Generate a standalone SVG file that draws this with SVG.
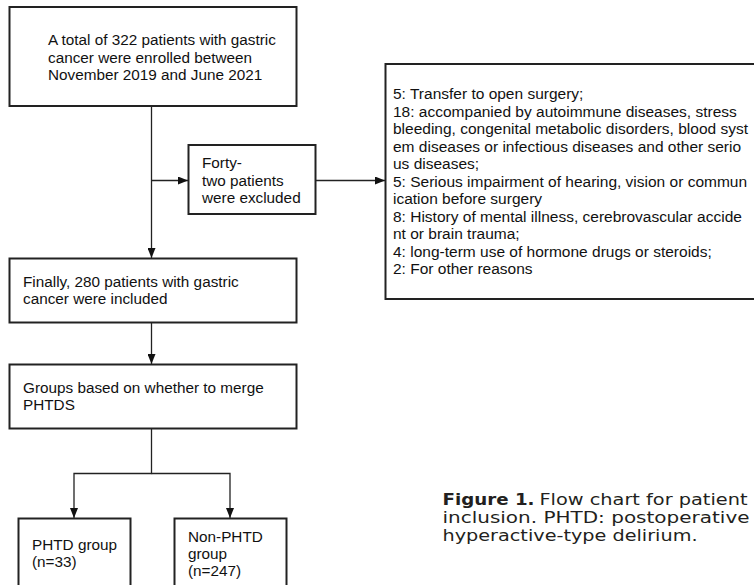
<svg xmlns="http://www.w3.org/2000/svg" width="754" height="585" viewBox="0 0 754 585">
<defs>
<marker id="ah" viewBox="0 0 10 8" refX="10" refY="4" markerWidth="10" markerHeight="8" markerUnits="userSpaceOnUse" orient="auto">
<path d="M0,0 L10,4 L0,8 Z" fill="#111"/>
</marker>
<style>
.box{fill:#fff;stroke:#222;stroke-width:2}
.t{font-family:"Liberation Sans",Arial,sans-serif;font-size:15.3px;fill:#111}
.r{font-size:15.5px}
.ln{fill:none;stroke:#222;stroke-width:1.3}
.cap{font-family:"DejaVu Sans","Liberation Sans",sans-serif;font-size:16.5px;fill:#231f20}
</style>
</defs>
<rect width="754" height="585" fill="#fff"/>
<g id="connectors">
<path class="ln" d="M151.5,106 V258" marker-end="url(#ah)"/>
<path class="ln" d="M151.5,180.5 H188" marker-end="url(#ah)"/>
<path class="ln" d="M315.5,180.5 H385" marker-end="url(#ah)"/>
<path class="ln" d="M151.5,323 V364" marker-end="url(#ah)"/>
<path class="ln" d="M151.5,428 V473.5 H74 V518" marker-end="url(#ah)"/>
<path class="ln" d="M151.5,473.5 H230 V518" marker-end="url(#ah)"/>
</g>
<g id="n-enrolled">
<rect class="box" x="9.5" y="7" width="287" height="99"/>
<text class="t" x="48" y="45">A total of 322 patients with gastric</text>
<text class="t" x="48" y="62.5">cancer were enrolled between</text>
<text class="t" x="48" y="80">November 2019 and June 2021</text>
</g>
<g id="n-excluded">
<rect class="box" x="188.5" y="145" width="127" height="69"/>
<text class="t" x="202" y="168">Forty-</text>
<text class="t" x="202" y="185.5">two patients</text>
<text class="t" x="202" y="203">were excluded</text>
</g>
<g id="n-reasons">
<rect class="box" x="385.5" y="64" width="380" height="235"/>
<text class="t r" x="393" y="99">5: Transfer to open surgery;</text>
<text class="t r" x="393" y="116.5">18: accompanied by autoimmune diseases, stress</text>
<text class="t r" x="393" y="134">bleeding, congenital metabolic disorders, blood syst</text>
<text class="t r" x="393" y="151.5">em diseases or infectious diseases and other serio</text>
<text class="t r" x="393" y="169">us diseases;</text>
<text class="t r" x="393" y="186.5">5: Serious impairment of hearing, vision or commun</text>
<text class="t r" x="393" y="204">ication before surgery</text>
<text class="t r" x="393" y="221.5">8: History of mental illness, cerebrovascular accide</text>
<text class="t r" x="393" y="239">nt or brain trauma;</text>
<text class="t r" x="393" y="256.5">4: long-term use of hormone drugs or steroids;</text>
<text class="t r" x="393" y="274">2: For other reasons</text>
</g>
<g id="n-included">
<rect class="box" x="9.5" y="258.5" width="287" height="64"/>
<text class="t" x="23" y="286.5">Finally, 280 patients with gastric</text>
<text class="t" x="23" y="304">cancer were included</text>
</g>
<g id="n-groups">
<rect class="box" x="9.5" y="364.5" width="287" height="64"/>
<text class="t" x="23" y="392.5">Groups based on whether to merge</text>
<text class="t" x="23" y="410">PHTDS</text>
</g>
<g id="n-phtd">
<rect class="box" x="18.5" y="518.5" width="112" height="90"/>
<text class="t" x="32" y="550">PHTD group</text>
<text class="t" x="32" y="567">(n=33)</text>
</g>
<g id="n-nonphtd">
<rect class="box" x="174.5" y="518.5" width="112" height="90"/>
<text class="t" x="188" y="541.5">Non-PHTD</text>
<text class="t" x="188" y="558.5">group</text>
<text class="t" x="188" y="576">(n=247)</text>
</g>
<g id="caption">
<text class="cap" x="442.5" y="505" font-weight="bold" textLength="92" lengthAdjust="spacingAndGlyphs">Figure 1.</text>
<text class="cap" x="539.5" y="505" textLength="208" lengthAdjust="spacingAndGlyphs">Flow chart for patient</text>
<text class="cap" x="442.5" y="523" textLength="307" lengthAdjust="spacingAndGlyphs">inclusion. PHTD: postoperative</text>
<text class="cap" x="442.5" y="541" textLength="255" lengthAdjust="spacingAndGlyphs">hyperactive-type delirium.</text>
</g>
</svg>
